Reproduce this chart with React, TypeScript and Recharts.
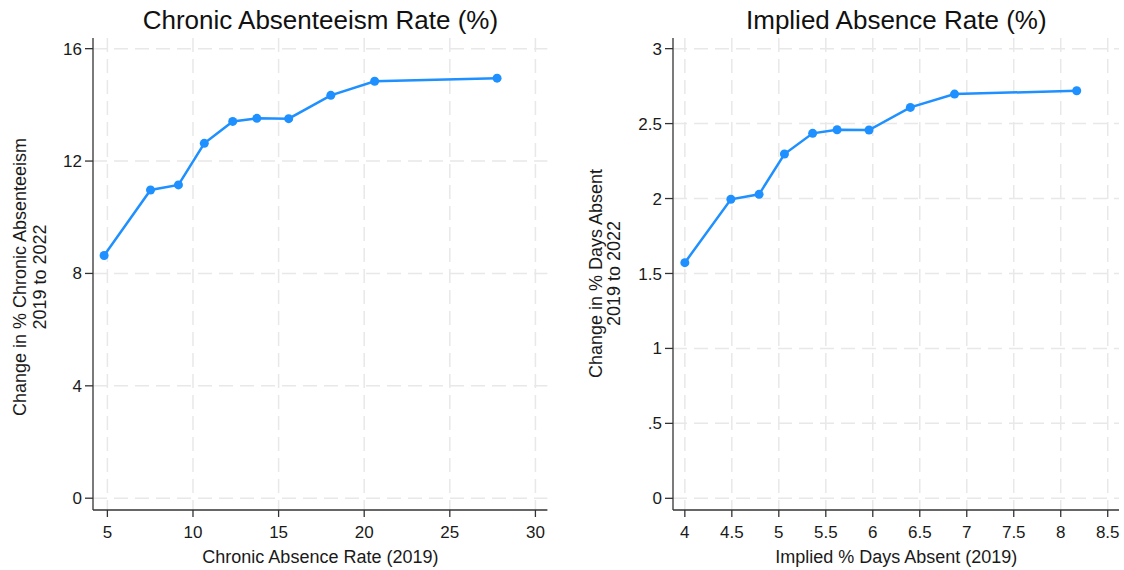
import React from 'react';
import { LineChart, Line, XAxis, YAxis, CartesianGrid } from 'recharts';

// ---- Data ----
const chronicX = [4.81, 7.52, 9.15, 10.66, 12.32, 13.73, 15.59, 18.05, 20.61, 27.76];
const chronicY = [8.64, 10.97, 11.15, 12.63, 13.41, 13.52, 13.51, 14.34, 14.84, 14.95];
const impliedX = [4.0, 4.49, 4.79, 5.06, 5.36, 5.62, 5.96, 6.4, 6.87, 8.17];
const impliedY = [1.572, 1.995, 2.028, 2.297, 2.435, 2.459, 2.457, 2.608, 2.697, 2.719];

const chronicXTicks = [5, 10, 15, 20, 25, 30];
const chronicYTicks = [0, 4, 8, 12, 16];
const impliedXTicks = [4, 4.5, 5, 5.5, 6, 6.5, 7, 7.5, 8, 8.5];
const impliedYTicks = [0, 0.5, 1, 1.5, 2, 2.5, 3];

const leftTitle = 'Chronic Absenteeism Rate (%)';
const leftXLabel = 'Chronic Absence Rate (2019)';
const leftYLabel = ['Change in % Chronic Absenteeism', '2019 to 2022'];
const rightTitle = 'Implied Absence Rate (%)';
const rightXLabel = 'Implied % Days Absent (2019)';
const rightYLabel = ['Change in % Days Absent', '2019 to 2022'];

const chronicData = chronicX.map((x, i) => ({ x, y: chronicY[i] }));
const impliedData = impliedX.map((x, i) => ({ x, y: impliedY[i] }));

const FONT = '"Liberation Sans", Arial, Helvetica, sans-serif';
const BLUE = '#1e90ff';
const AXIS = '#333333';
const GRID = '#e8e8e8';

const fmtImplied = (v: number) => (v === 0.5 ? '.5' : String(v));

type PanelProps = {
  data: { x: number; y: number }[];
  left: number;
  yWidth: number;
  marginRight: number;
  xDomain: [number, number];
  yDomain: [number, number];
  xTicks: number[];
  yTicks: number[];
  yFmt?: (v: number) => string;
};

function Panel({ data, left, yWidth, marginRight, xDomain, yDomain, xTicks, yTicks, yFmt }: PanelProps) {
  return (
    <div style={{ position: 'absolute', left, top: 0 }}>
      <LineChart
        width={562}
        height={570}
        data={data}
        margin={{ top: 38, right: marginRight, left: 0, bottom: 0 }}
      >
        <CartesianGrid stroke={GRID} strokeDasharray="14 7" strokeWidth={1.5} syncWithTicks />
        <XAxis
          type="number"
          dataKey="x"
          domain={xDomain}
          ticks={xTicks}
          allowDataOverflow
          interval={0}
          height={60}
          tickSize={7}
          tickMargin={9}
          axisLine={{ stroke: AXIS, strokeWidth: 1.3 }}
          tickLine={{ stroke: AXIS, strokeWidth: 1.3 }}
          tick={{ fill: '#1a1a1a', fontSize: 17, fontFamily: FONT }}
        />
        <YAxis
          type="number"
          dataKey="y"
          domain={yDomain}
          ticks={yTicks}
          allowDataOverflow
          interval={0}
          width={yWidth}
          tickSize={8}
          tickMargin={3}
          tickFormatter={yFmt}
          axisLine={{ stroke: AXIS, strokeWidth: 1.3 }}
          tickLine={{ stroke: AXIS, strokeWidth: 1.3 }}
          tick={{ fill: '#1a1a1a', fontSize: 17, fontFamily: FONT }}
        />
        <Line
          type="linear"
          dataKey="y"
          stroke={BLUE}
          strokeWidth={2.5}
          dot={{ r: 4.5, fill: BLUE, stroke: BLUE, strokeWidth: 0 }}
          activeDot={false}
          isAnimationActive={false}
        />
      </LineChart>
    </div>
  );
}

function RotLabel({ x1, x2, cy, lines }: { x1: number; x2: number; cy: number; lines: string[] }) {
  return (
    <g fontFamily={FONT} fontSize={18} fill="#1a1a1a">
      <text x={x1} y={cy} textAnchor="middle" transform={`rotate(-90, ${x1}, ${cy})`}>
        {lines[0]}
      </text>
      <text x={x2} y={cy} textAnchor="middle" transform={`rotate(-90, ${x2}, ${cy})`}>
        {lines[1]}
      </text>
    </g>
  );
}

export default function App() {
  return (
    <div
      style={{
        position: 'absolute',
        left: 0,
        top: 0,
        width: 1124,
        height: 570,
        background: '#fff',
        overflow: 'hidden',
      }}
    >
      <Panel
        data={chronicData}
        left={0}
        yWidth={93}
        marginRight={14.6}
        xDomain={[4.16, 30.7]}
        yDomain={[-0.42, 16.38]}
        xTicks={chronicXTicks}
        yTicks={chronicYTicks}
      />
      <Panel
        data={impliedData}
        left={562}
        yWidth={111}
        marginRight={5}
        xDomain={[3.874, 8.62]}
        yDomain={[-0.078, 3.071]}
        xTicks={impliedXTicks}
        yTicks={impliedYTicks}
        yFmt={fmtImplied}
      />
      <svg
        width={1124}
        height={570}
        style={{ position: 'absolute', left: 0, top: 0, pointerEvents: 'none' }}
      >
        <text x={320.4} y={29.3} textAnchor="middle" fontFamily={FONT} fontSize={26} fill="#111">
          {leftTitle}
        </text>
        <text x={896.3} y={29.3} textAnchor="middle" fontFamily={FONT} fontSize={26} fill="#111">
          {rightTitle}
        </text>
        <text x={320.4} y={563} textAnchor="middle" fontFamily={FONT} fontSize={18} fill="#1a1a1a">
          {leftXLabel}
        </text>
        <text x={896.3} y={563} textAnchor="middle" fontFamily={FONT} fontSize={18} fill="#1a1a1a">
          {rightXLabel}
        </text>
        <RotLabel x1={26} x2={45.5} cy={277} lines={leftYLabel} />
        <RotLabel x1={601.5} x2={620} cy={273.5} lines={rightYLabel} />
      </svg>
    </div>
  );
}
